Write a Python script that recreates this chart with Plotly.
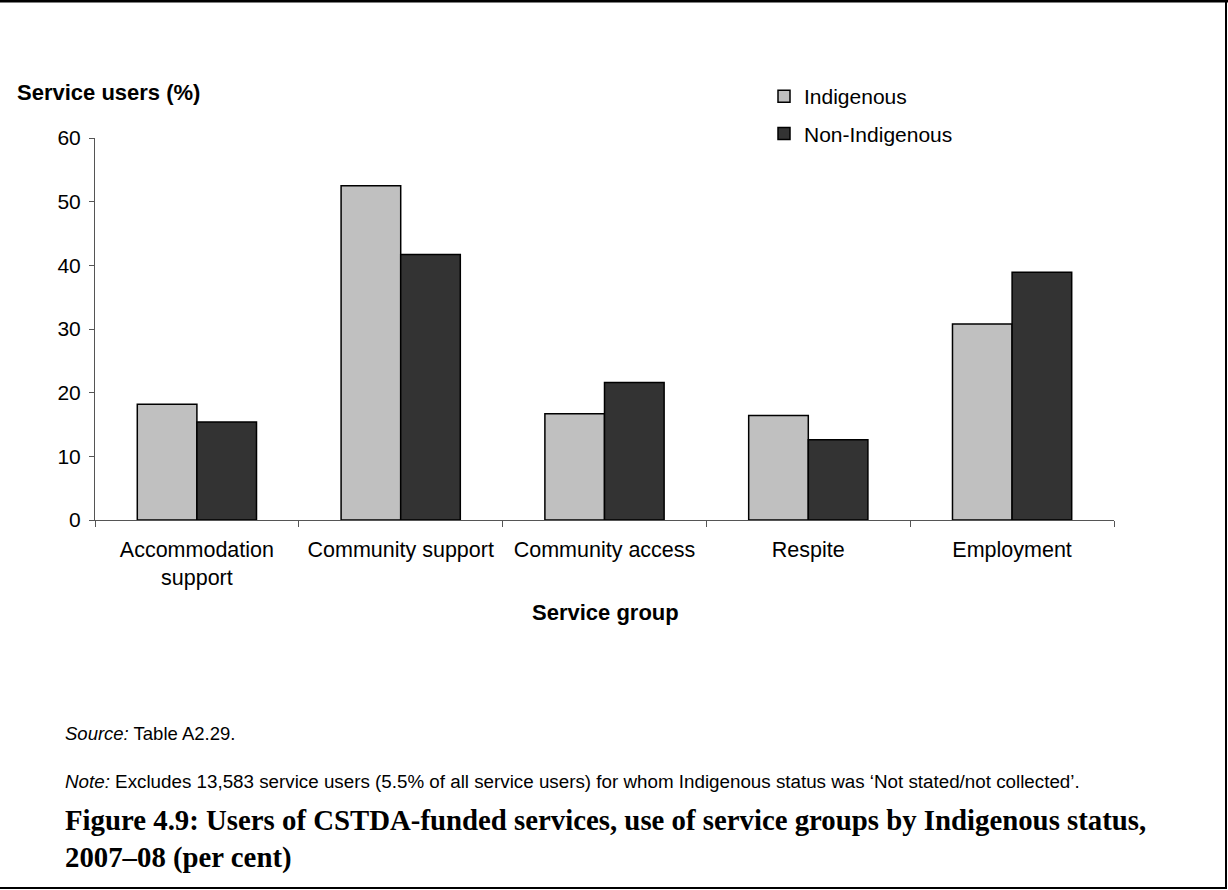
import plotly.graph_objects as go

# Service groups and share of service users (%) by Indigenous status
categories = ["Accommodation<br>support", "Community support", "Community access", "Respite", "Employment"]
indigenous = [18.2, 52.5, 16.7, 16.4, 30.8]
non_indigenous = [15.4, 41.7, 21.6, 12.6, 38.9]

y_ticks = [0, 10, 20, 30, 40, 50, 60]

W, H = 1228, 890
L, R, T, B = 95, 114, 138, 370
PW, PH = W - L - R, H - T - B


def px(x):
    return (x - L) / PW


def py(y):
    return (H - B - y) / PH


SANS = "Liberation Sans, Arial, sans-serif"
SERIF = "Liberation Serif, Times New Roman, serif"

fig = go.Figure()
fig.add_trace(go.Bar(
    name="Indigenous", x=categories, y=indigenous,
    marker=dict(color="#c0c0c0", line=dict(color="#000000", width=1.5)),
    legendgroup="a",
))
fig.add_trace(go.Bar(
    name="Non-Indigenous", x=categories, y=non_indigenous,
    marker=dict(color="#333333", line=dict(color="#000000", width=1.5)),
    legendgroup="b",
))

fig.update_layout(
    width=W, height=H,
    margin=dict(l=L, r=R, t=T, b=B, pad=0),
    paper_bgcolor="white", plot_bgcolor="white",
    barmode="group", bargap=0.415, bargroupgap=0,
    font=dict(family=SANS, size=21, color="#000000"),
    showlegend=True,
    legend=dict(
        x=px(764), y=py(76), xanchor="left", yanchor="top",
        font=dict(family=SANS, size=21, color="#000000"),
        tracegroupgap=7, bgcolor="rgba(0,0,0,0)",
    ),
    xaxis=dict(
        type="category", showline=True, linecolor="#555555", linewidth=1,
        ticks="outside", tickson="boundaries", ticklen=6, tickcolor="#555555",
        showgrid=False, tickfont=dict(family=SANS, size=21.5),
        ticklabelstandoff=10,
    ),
    yaxis=dict(
        range=[0, 60], tickvals=y_ticks, showline=True, linecolor="#555555",
        linewidth=1, ticks="outside", ticklen=5, tickcolor="#555555",
        showgrid=False, zeroline=False, tickfont=dict(family=SANS, size=21),
        ticklabelstandoff=4,
    ),
)

annotations = [
    dict(text="<b>Service users (%)</b>", x=px(15), y=py(92), xanchor="left", yanchor="middle",
         font=dict(family=SANS, size=22)),
    dict(text="<b>Service group</b>", x=px(605), y=py(612), xanchor="center", yanchor="middle",
         font=dict(family=SANS, size=22)),
    dict(text="<i>Source:</i> Table A2.29.", x=px(63), y=py(733), xanchor="left", yanchor="middle",
         font=dict(family=SANS, size=18.5)),
    dict(text="<i>Note:</i> Excludes 13,583 service users (5.5% of all service users) for whom Indigenous status was \u2018Not stated/not collected\u2019.",
         x=px(63), y=py(781), xanchor="left", yanchor="middle", font=dict(family=SANS, size=18.8)),
    dict(text="<b>Figure 4.9: Users of CSTDA-funded services, use of service groups by Indigenous status,<br>2007\u201308 (per cent)</b>",
         x=px(63), y=py(839), xanchor="left", yanchor="middle", align="left",
         font=dict(family=SERIF, size=28.8)),
]
for a in annotations:
    a.update(xref="paper", yref="paper", showarrow=False)
fig.update_layout(annotations=annotations)

# Page frame: top, right and bottom rules
frame = [
    dict(x0=px(0), x1=px(W), y0=py(1), y1=py(1), width=3),
    dict(x0=px(1226), x1=px(1226), y0=py(0), y1=py(888), width=2),
    dict(x0=px(0), x1=px(1227), y0=py(888), y1=py(888), width=2),
]
fig.update_layout(shapes=[
    dict(type="line", xref="paper", yref="paper", x0=f["x0"], x1=f["x1"], y0=f["y0"], y1=f["y1"],
         line=dict(color="#000000", width=f["width"]))
    for f in frame
])

fig.write_html("out.html")
